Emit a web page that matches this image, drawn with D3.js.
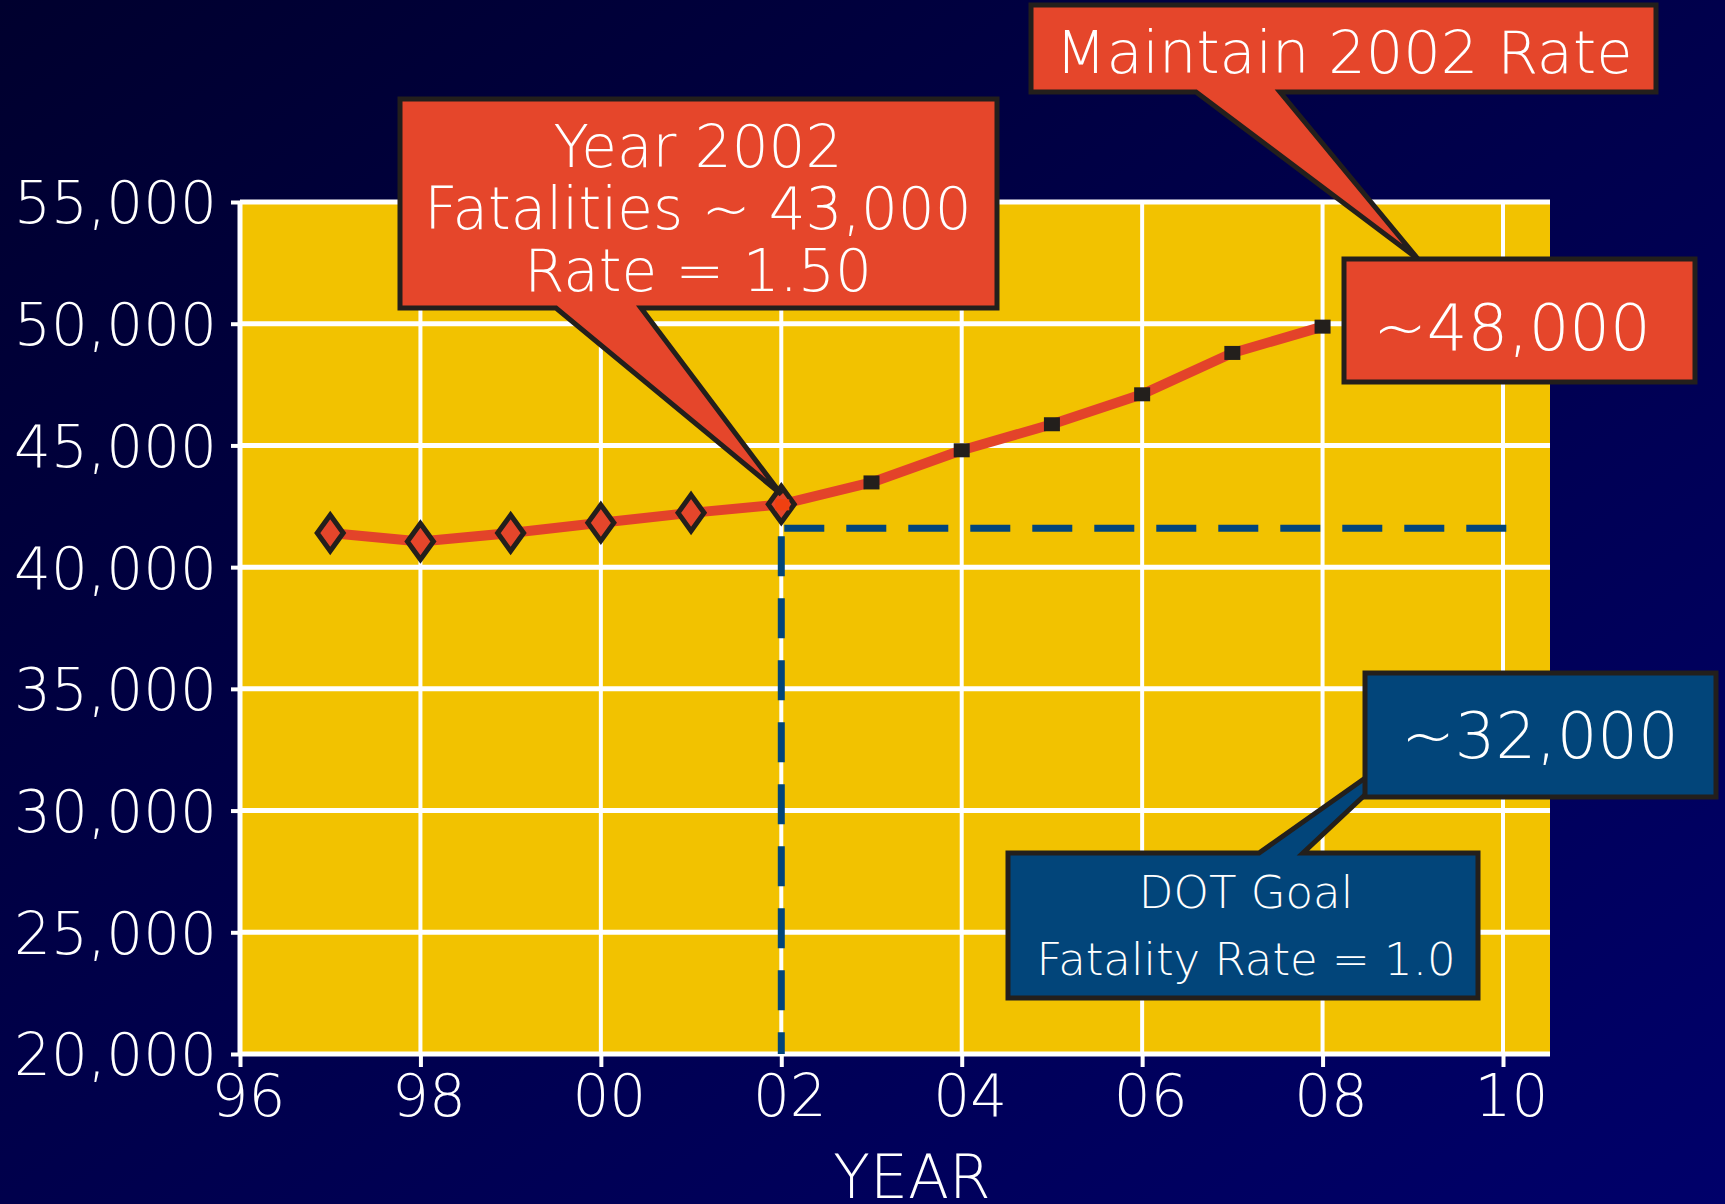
<!DOCTYPE html>
<html>
<head>
<meta charset="utf-8">
<script src="https://cdn.jsdelivr.net/npm/d3@7"></script>
<style>
    html, body { margin: 0; padding: 0; background: #000033; }
    svg text { font-family: 'DejaVu Sans', sans-serif; fill: #ffffff; }
</style>
</head>
<body>
<svg id="chart" width="1725" height="1204"></svg>
<script>
'use strict';

var actualYears = [1997, 1998, 1999, 2000, 2001, 2002],
    actualValues = [41400, 41050, 41400, 41820, 42230, 42580],
    projectedYears = [2003, 2004, 2005, 2006, 2007, 2008],
    projectedValues = [43480, 44800, 45870, 47100, 48800, 49880],
    goalYear = 2002,
    goalValue = 41600,
    xTicks = [1996, 1998, 2000, 2002, 2004, 2006, 2008, 2010],
    yTicks = [20000, 25000, 30000, 35000, 40000, 45000, 50000, 55000],
    xLabel = 'YEAR';

var callout2002 = ['Year 2002', 'Fatalities ~ 43,000', 'Rate = 1.50'],
    calloutMaintain = 'Maintain 2002 Rate',
    calloutHigh = '~48,000',
    calloutLow = '~32,000',
    calloutGoal = ['DOT Goal', 'Fatality Rate = 1.0'];

var svg = d3.select('#chart'),
    red = '#e5462b',
    dark = '#231f1c',
    blue = '#02457a',
    yellow = '#f2c200',
    plot = { left: 240, right: 1550, top: 202, bottom: 1054 };

var x = d3.scaleLinear().domain([1996, 2010]).range([240, 1503]),
    y = d3.scaleLinear().domain([20000, 55000]).range([plot.bottom, plot.top]);

//Background gradient
var grad = svg.append('defs').append('linearGradient')
    .attr('id', 'bg')
    .attr('x1', 0).attr('y1', 0).attr('x2', 1).attr('y2', 1);
grad.append('stop').attr('offset', '0%').attr('stop-color', '#00002e');
grad.append('stop').attr('offset', '100%').attr('stop-color', '#00006a');

svg.append('rect')
    .attr('width', 1725).attr('height', 1204)
    .attr('fill', 'url(#bg)');

//Plot area
svg.append('rect')
    .attr('x', plot.left).attr('y', plot.top)
    .attr('width', plot.right - plot.left)
    .attr('height', plot.bottom - plot.top)
    .attr('fill', yellow);

//Gridlines
svg.append('g').selectAll('line')
    .data(yTicks)
    .enter().append('line')
    .attr('x1', plot.left).attr('x2', plot.right)
    .attr('y1', d => y(d)).attr('y2', d => y(d))
    .attr('stroke', '#ffffff')
    .attr('stroke-width', 5);

svg.append('g').selectAll('line')
    .data(xTicks)
    .enter().append('line')
    .attr('x1', d => x(d)).attr('x2', d => x(d))
    .attr('y1', plot.top).attr('y2', plot.bottom)
    .attr('stroke', '#ffffff')
    .attr('stroke-width', d => d === 1996 ? 5 : 4);

//Axes
var yAxis = svg.append('g')
    .attr('transform', 'translate(' + plot.left + ',0)')
    .call(d3.axisLeft(y).tickValues(yTicks).tickSize(9).tickPadding(14).tickFormat(d3.format(',')));

var xAxis = svg.append('g')
    .attr('transform', 'translate(0,' + plot.bottom + ')')
    .call(d3.axisBottom(x).tickValues(xTicks).tickSize(13).tickPadding(8)
        .tickFormat(d => String(d % 100).padStart(2, '0')));

[yAxis, xAxis].forEach(function (ax) {
    ax.select('.domain').remove();
    ax.selectAll('.tick line').attr('stroke', '#ffffff').attr('stroke-width', 4);
    ax.selectAll('.tick text')
        .attr('fill', '#ffffff')
        .style('font-family', "'DejaVu Sans', sans-serif")
        .style('font-size', '58px')
        .style('font-weight', 200);
});
yAxis.selectAll('.tick text').attr('dy', '0.36em');
xAxis.selectAll('.tick text').attr('dx', 8).attr('dy', '0.7em');

svg.append('text')
    .attr('x', 912).attr('y', 1198)
    .attr('text-anchor', 'middle')
    .style('font-size', '60px')
    .style('font-weight', 200)
    .text(xLabel);

//Goal dashed lines
svg.append('line')
    .attr('x1', x(goalYear) + 3).attr('x2', x(2010) + 6)
    .attr('y1', y(goalValue)).attr('y2', y(goalValue))
    .attr('stroke', blue)
    .attr('stroke-width', 7)
    .attr('stroke-dasharray', '40 22');

svg.append('line')
    .attr('x1', x(goalYear)).attr('x2', x(goalYear))
    .attr('y1', y(goalValue) + 8).attr('y2', plot.bottom)
    .attr('stroke', blue)
    .attr('stroke-width', 7)
    .attr('stroke-dasharray', '40 22');

//Fatality line
var allYears = actualYears.concat(projectedYears),
    allValues = actualValues.concat(projectedValues);

svg.append('path')
    .datum(allYears.map((d, i) => [d, allValues[i]]))
    .attr('d', d3.line().x(d => x(d[0])).y(d => y(d[1])))
    .attr('fill', 'none')
    .attr('stroke', '#e3432a')
    .attr('stroke-width', 10)
    .attr('stroke-linejoin', 'round');

//Projected points
svg.append('g').selectAll('rect')
    .data(projectedYears)
    .enter().append('rect')
    .attr('x', d => x(d) - 8)
    .attr('y', (d, i) => y(projectedValues[i]) - 7)
    .attr('width', 16).attr('height', 14)
    .attr('fill', dark);

//Actual points (diamonds)
svg.append('g').selectAll('path')
    .data(actualYears)
    .enter().append('path')
    .attr('d', (d, i) => {
        var cx = x(d), cy = y(actualValues[i]);
        return 'M' + cx + ',' + (cy - 18) + 'L' + (cx + 13) + ',' + cy +
            'L' + cx + ',' + (cy + 18) + 'L' + (cx - 13) + ',' + cy + 'Z';
    })
    .attr('fill', red)
    .attr('stroke', dark)
    .attr('stroke-width', 5);

svg.append('rect')
    .attr('x', x(2002) - 6).attr('y', y(42580) - 5)
    .attr('width', 14).attr('height', 11)
    .attr('fill', '#f04010');

//Callouts
function callout(d, fill) {
    svg.append('path')
        .attr('d', d)
        .attr('fill', fill)
        .attr('stroke', dark)
        .attr('stroke-width', 5)
        .attr('stroke-linejoin', 'miter');
}

function lines(texts, cx, y0, step, size) {
    texts.forEach((t, i) => {
        svg.append('text')
            .attr('x', cx).attr('y', y0 + i * step)
            .attr('text-anchor', 'middle')
            .style('font-size', size + 'px')
            .style('font-weight', 200)
            .text(t);
    });
}

//Year 2002 callout, pointing at the 2002 point
var tip2002 = [x(2002), y(42580) - 10];
callout('M400,99H997V308H641L' + tip2002[0] + ',' + tip2002[1] + 'L556,308H400Z', red);
lines(callout2002, 698, 167, 62, 58);

//Maintain 2002 Rate callout
callout('M1031,5H1656V92H1280L1418,259L1196,92H1031Z', red);
lines([calloutMaintain], 1344, 73, 0, 59);

callout('M1344,259H1695V382H1344Z', red);
lines([calloutHigh], 1512, 350, 0, 64);

//DOT goal callouts
callout('M1008,853H1259L1368,776L1368,792L1303,853H1478V998H1008Z', blue);
callout('M1365,673H1716V797H1365Z', blue);
lines([calloutLow], 1540, 758, 0, 64);
lines(calloutGoal, 1246, 908, 67, 45);
</script>
</body>
</html>
